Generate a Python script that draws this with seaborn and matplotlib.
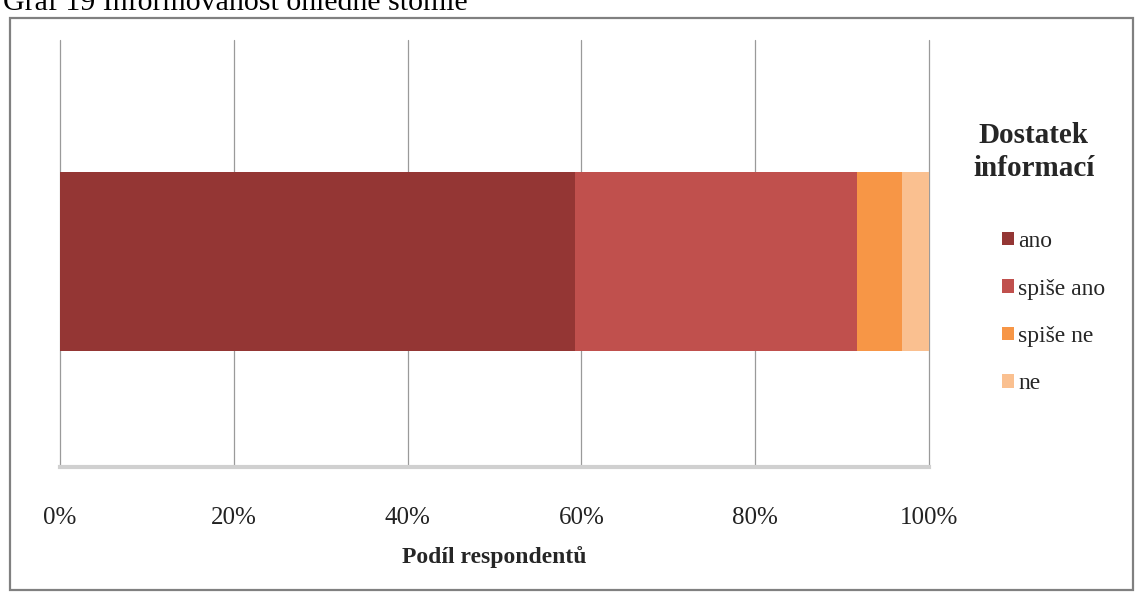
import pandas as pd
import numpy as np
import matplotlib.pyplot as plt
import seaborn as sns
from matplotlib.patches import Patch, Rectangle
from matplotlib.ticker import PercentFormatter

# Data (share of respondents, %)
answers = ['ano', 'spiše ano', 'spiše ne', 'ne']
shares = [59.3, 32.4, 5.2, 3.1]
colors = ['#943634', '#C0504D', '#F79646', '#FAC090']

# cumulative ends so that bars can be overlaid from the longest one
ends = np.cumsum(shares)
df = pd.DataFrame({'odpoved': answers, 'konec': ends, 'skupina': ['x'] * 4})

sns.set_style('white')
plt.rcParams['font.family'] = ['Liberation Serif', 'DejaVu Serif']

fig = plt.figure(figsize=(11.36, 5.94), dpi=100)
ax = fig.add_axes([0.0528, 0.2138, 0.765, 0.719])

# draw longest first so the shorter ones sit on top
for i in range(len(answers) - 1, -1, -1):
    sns.barplot(data=df.iloc[[i]], x='konec', y='skupina', orient='h',
                color=colors[i], width=0.419, saturation=1, linewidth=0,
                ax=ax, zorder=3)

ax.set_xlim(0, 100)
ax.set_ylim(0.481, -0.519)
ax.set_xticks([0, 20, 40, 60, 80, 100])
ax.xaxis.set_major_formatter(PercentFormatter(decimals=0))
ax.set_yticks([])
ax.set_ylabel('')
ax.grid(axis='x', color='#9a9a9a', linewidth=0.9, zorder=0)
for gl in ax.get_xgridlines():
    gl.set_clip_on(False)
ax.tick_params(axis='x', length=11, width=0.9, color='#9a9a9a', pad=18,
               labelsize=18, labelcolor='#222222')
for s in ['top', 'right', 'left']:
    ax.spines[s].set_visible(False)
ax.spines['bottom'].set_color('#d0d0d0')
ax.spines['bottom'].set_linewidth(3)
ax.set_xlabel('Podíl respondentů', fontsize=17, fontweight='bold', labelpad=12)

# legend title as separate text, legend entries below it
fig.text(0.910, 0.744, 'Dostatek\ninformací', fontsize=21, fontweight='bold',
         ha='center', va='center', multialignment='center', linespacing=1.3)
handles = [Patch(facecolor=c, edgecolor='none') for c in colors]
leg = fig.legend(handles, answers, loc='upper left', bbox_to_anchor=(0.882, 0.611),
                 frameon=False, fontsize=17, handlelength=0.5, handleheight=0.5,
                 handletextpad=0.2, labelspacing=1.12, borderaxespad=0,
                 borderpad=0)

# outer frame and cut-off caption
fig.patches.append(Rectangle((0.009, 0.006), 0.988, 0.963, transform=fig.transFigure,
                             fill=False, edgecolor='#808080', linewidth=1.6))
fig.text(0.003, 0.995, 'Graf 19 Informovanost ohledně stomie', fontsize=21.5,
         ha='left', va='center', color='black')

plt.savefig('out.png', dpi=100)
plt.close()
